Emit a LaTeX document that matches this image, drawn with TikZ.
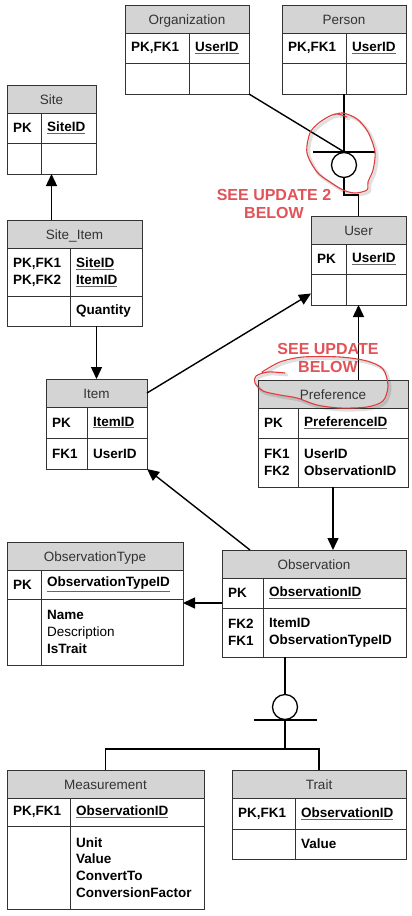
\documentclass[tikz,border=0pt]{standalone}
\usepackage{fontspec}
\setmainfont{Liberation Sans}
\usepackage{tikz}
\usetikzlibrary{arrows.meta}

\definecolor{hdrfill}{RGB}{212,212,212}
\definecolor{penred}{RGB}{226,60,60}
\definecolor{notered}{RGB}{226,82,88}

\tikzset{
	erhead/.style={draw=black!80,fill=hdrfill,line width=0.8pt,outer sep=0pt,minimum height=28,inner sep=0pt,
		text height=10pt,text depth=0pt,font=\fontsize{13.5}{16.5}\selectfont,text=black!80},
	errow/.style={draw=black!80,line width=0.8pt,outer sep=0pt,inner sep=0pt},
	ertext/.style={anchor=west,align=left,inner sep=0pt,font=\fontsize{13.5}{16.8}\selectfont\bfseries},
	fk/.style={line width=1.4pt,-{Triangle[length=12pt,width=11pt]}},
	link/.style={line width=1.4pt},
	subjoin/.style={draw,circle,line width=1.3pt,minimum size=25,inner sep=0pt},
	note/.style={align=center,inner sep=0pt,text=notered,font=\fontsize{16}{18.3}\selectfont\bfseries},
	pen/.style={draw=penred,line width=1.1pt,line cap=round,line join=round},
	penshadow/.style={draw=black,opacity=0.12,line width=3pt,line cap=round,shift={(2,2)}},
}

\newcommand{\pkey}[1]{\textcolor{black!60}{\underline{\textcolor{black}{#1}}}}
\newcommand{\ercells}[4]{%
	\node[ertext] (#1-k) at ([xshift=6]#1.west) {#3};
	\node[ertext] (#1-f) at ([xshift=#2+6]#1.west) {#4};
}
% name, top left, width, key width, row heights, header, rows
\newcommand{\ertable}[9]{%
	\node[erhead,minimum width=#3,anchor=north west] (#1) at (#2) {#7};
	\node[errow,minimum width=#3,minimum height=#5,anchor=north] (#1-r1) at (#1.south) {};
	\node[errow,minimum width=#3,minimum height=#6,anchor=north] (#1-r2) at (#1-r1.south) {};
	\draw[draw=black!80,line width=0.8pt] ([xshift=#4]#1-r1.north west) -- ([xshift=#4]#1-r2.south west);
	\ercells{#1-r1}{#4}#8
	\ercells{#1-r2}{#4}#9
}

\begin{document}
\begin{tikzpicture}[x=1pt,y=-1pt]
	\useasboundingbox (0,0) rectangle (412,916);
	% tables
	\ertable{org}{125,5}{124}{64}{30}{31}{Organization}{{PK,FK1}{\pkey{UserID}}}{{}{}}
	\ertable{person}{282,5}{124}{64}{30}{31}{Person}{{PK,FK1}{\pkey{UserID}}}{{}{}}
	\ertable{site}{7,85}{89}{34}{30}{31}{Site}{{PK}{\pkey{SiteID}}}{{}{}}
	\ertable{siteitem}{7,220}{135}{63}{48}{30}{Site\_Item}{{PK,FK1\\PK,FK2}{\pkey{SiteID}\\\pkey{ItemID}}}{{}{Quantity}}
	\ertable{user}{311,216}{95}{35}{30}{31}{User}{{PK}{\pkey{UserID}}}{{}{}}
	\ertable{item}{46,379}{101}{41}{31}{31}{Item}{{PK}{\pkey{ItemID}}}{{FK1}{UserID}}
	\ertable{pref}{258,380}{150}{40}{30}{49}{Preference}{{PK}{\pkey{PreferenceID}}}{{FK1\\FK2}{UserID\\ObservationID}}
	\ertable{obstype}{7,542}{176}{34}{29}{66}{ObservationType}{{PK}{\pkey{ObservationTypeID}}}{{}{Name\\\textmd{Description}\\IsTrait}}
	\ertable{obs}{222,550}{184}{41}{30}{49}{Observation}{{PK}{\pkey{ObservationID}}}{{FK2\\FK1}{ItemID\\ObservationTypeID}}
	\ertable{meas}{7,770}{197}{63}{28}{83}{Measurement}{{PK,FK1}{\pkey{ObservationID}}}{{}{Unit\\Value\\ConvertTo\\ConversionFactor}}
	\ertable{trait}{232,770}{174}{63}{31}{30}{Trait}{{PK,FK1}{\pkey{ObservationID}}}{{}{Value}}

	% subtype joins
	\node[subjoin] (ujoin) at (344,165) {};
	\node[subjoin] (ojoin) at (285,707) {};
	\draw[link] ([xshift=-31]ujoin.north) -- ([xshift=31]ujoin.north);
	\draw[link] (org-r2.south east) -- (ujoin.north);
	\draw[link] (person-r2.south) -- (ujoin.north);
	\draw[link] (ujoin.south) -- ++(0,17) -| (user.north);
	\draw[link] (obs-r2.south -| ojoin.north) -- (ojoin.north);
	\draw[link] ([xshift=-31]ojoin.south) -- ([xshift=32]ojoin.south);
	\draw[link] (ojoin.south) -- ++(0,29) -| (meas.north);
	\draw[link] (ojoin.south) -- ++(0,29) -| (trait.north);

	% foreign keys
	\draw[fk] (site-r2.south |- siteitem.north) -- (site-r2.south);
	\draw[fk] (item.north |- siteitem-r2.south) -- (item.north);
	\draw[fk] (item.east) -- ([yshift=-4]user-r2.west);
	\draw[fk] (user-r2.south |- pref.north) -- (user-r2.south);
	\draw[fk] (pref-r2.south) -- (pref-r2.south |- obs.north);
	\draw[fk] ([xshift=28]obs.north west) -- (item-r2.south east);
	\coordinate (otip) at ([yshift=5]obs-r2.north west);
	\draw[fk] (otip) -- (otip -| obstype-r2.east);

	% red remarks
	\node[note] (upd2) at (274,204) {SEE UPDATE 2\\BELOW};
	\node[note] (upd1) at (328,358) {SEE UPDATE\\BELOW};
	\draw[penshadow] plot[smooth] coordinates {(333,115) (343,113) (357,119) (368,132) (375,152) (373,170) (368,182) (367,190) (355,193) (343,190) (330,182) (317,172) (307,153) (310,133) (320,122) (335,114) (347,117)};
	\draw[pen] plot[smooth] coordinates {(333,115) (343,113) (357,119) (368,132) (375,152) (373,170) (368,182) (367,190) (355,193) (343,190) (330,182) (317,172) (307,153) (310,133) (320,122) (335,114) (347,117)};
	\draw[penshadow] plot[smooth] coordinates {(262,372) (280,362) (303,357) (340,357) (367,361) (383,369) (388,386) (383,401) (367,407) (340,408) (317,405) (297,398) (280,395) (263,391) (255,383) (256,376) (268,372) (285,373)};
	\draw[pen] plot[smooth] coordinates {(262,372) (280,362) (303,357) (340,357) (367,361) (383,369) (388,386) (383,401) (367,407) (340,408) (317,405) (297,398) (280,395) (263,391) (255,383) (256,376) (268,372) (285,373)};
\end{tikzpicture}
\end{document}
